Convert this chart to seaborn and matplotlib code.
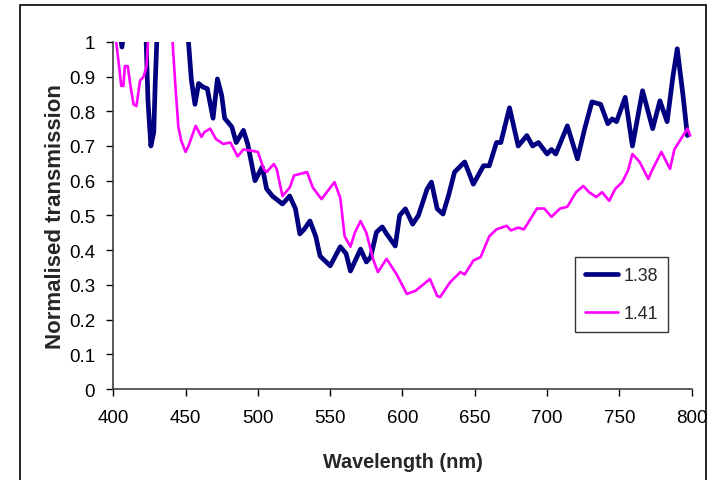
import pandas as pd
import matplotlib
matplotlib.use("Agg")
import matplotlib.pyplot as plt
import matplotlib.patches as patches
import seaborn as sns

# values (values above 1 are clipped by the axis)
wl_138 = [400, 404, 406, 408, 422, 424, 426, 428, 429, 431, 450, 452, 454, 456.5, 459,
          462, 465, 469, 472, 475, 477, 482, 485, 490, 493, 498, 503, 506, 510, 517,
          522, 526, 529, 532, 536, 540, 543, 550, 557, 561, 564, 571, 575, 578, 582,
          586, 589, 595, 598, 602, 607, 611, 617, 620, 624, 628, 632, 636, 643, 649,
          656, 660, 665, 668, 674, 680, 686, 690, 694, 700, 703, 706, 714, 721, 726,
          731, 737, 742, 745, 748, 754, 759, 766, 773, 778, 783, 787, 790, 794, 797]
tr_138 = [1.10, 1.05, 0.985, 1.05, 1.10, 0.83, 0.70, 0.74, 0.88, 1.10, 1.10, 1.00, 0.89, 0.82, 0.88,
          0.87, 0.865, 0.78, 0.893, 0.845, 0.78, 0.755, 0.71, 0.745, 0.705, 0.60, 0.64, 0.577, 0.556, 0.533,
          0.556, 0.519, 0.447, 0.46, 0.484, 0.44, 0.383, 0.355, 0.41, 0.39, 0.34, 0.403, 0.366, 0.38, 0.452,
          0.467, 0.447, 0.412, 0.50, 0.519, 0.475, 0.50, 0.576, 0.596, 0.519, 0.504, 0.56, 0.625, 0.654, 0.59,
          0.643, 0.643, 0.71, 0.71, 0.81, 0.70, 0.73, 0.70, 0.71, 0.677, 0.69, 0.677, 0.758, 0.663, 0.75,
          0.827, 0.82, 0.764, 0.778, 0.77, 0.84, 0.70, 0.859, 0.75, 0.83, 0.77, 0.90, 0.98, 0.845, 0.73]

wl_141 = [400, 402, 404, 405.5, 407, 408, 410, 412, 414, 416, 418.5, 421, 423, 424, 425,
          440, 441, 443, 445, 447, 450, 452, 455, 457, 461, 463, 467, 471, 476, 481,
          486, 490, 496, 500, 504, 506, 511, 513, 517, 522, 525, 534, 538, 544, 550,
          553, 557, 560, 564, 567, 571, 575, 580, 583, 589, 596, 603, 609, 619, 624,
          626, 633, 640, 643, 649, 654, 660, 665, 672, 675, 680, 684, 693, 698, 703,
          709, 714, 720, 725, 729, 734, 738, 743, 747, 752, 756, 759, 764, 770, 772,
          779, 785, 788, 794, 797, 799]
tr_141 = [1.05, 1.0, 0.93, 0.873, 0.873, 0.93, 0.93, 0.87, 0.82, 0.815, 0.888, 0.90, 0.93, 1.0, 1.10,
          1.10, 1.0, 0.87, 0.755, 0.715, 0.683, 0.70, 0.735, 0.758, 0.726, 0.74, 0.75, 0.72, 0.706, 0.71,
          0.67, 0.69, 0.686, 0.683, 0.634, 0.625, 0.648, 0.634, 0.556, 0.58, 0.615, 0.625, 0.58, 0.547, 0.58,
          0.596, 0.55, 0.44, 0.41, 0.45, 0.484, 0.45, 0.37, 0.337, 0.375, 0.33, 0.274, 0.283, 0.317, 0.268,
          0.265, 0.308, 0.337, 0.33, 0.37, 0.38, 0.44, 0.46, 0.47, 0.457, 0.465, 0.46, 0.52, 0.52, 0.496,
          0.52, 0.525, 0.567, 0.585, 0.567, 0.553, 0.567, 0.542, 0.576, 0.596, 0.63, 0.677, 0.654, 0.605, 0.625,
          0.683, 0.634, 0.69, 0.73, 0.75, 0.73]

x_ticks = [400, 450, 500, 550, 600, 650, 700, 750, 800]
y_ticks = [0, 0.1, 0.2, 0.3, 0.4, 0.5, 0.6, 0.7, 0.8, 0.9, 1]
y_ticklabels = ["0", "0.1", "0.2", "0.3", "0.4", "0.5", "0.6", "0.7", "0.8", "0.9", "1"]

df_138 = pd.DataFrame({"wavelength": wl_138, "transmission": tr_138})
df_141 = pd.DataFrame({"wavelength": wl_141, "transmission": tr_141})

sns.set_style("ticks")
plt.rcParams["font.family"] = ["Liberation Sans", "DejaVu Sans"]
plt.rcParams["lines.solid_joinstyle"] = "round"
plt.rcParams["lines.solid_capstyle"] = "round"

fig = plt.figure(figsize=(7.08, 4.81), dpi=100)
ax = fig.add_axes([0.160, 0.189, 0.817, 0.722])

sns.lineplot(x="wavelength", y="transmission", data=df_138, ax=ax, color="#000080",
             linewidth=3.4, estimator=None, sort=False, label="1.38")
sns.lineplot(x="wavelength", y="transmission", data=df_141, ax=ax, color="#ff00ff",
             linewidth=1.9, estimator=None, sort=False, label="1.41")

ax.set_xlim(400, 800)
ax.set_ylim(0, 1)
ax.set_xticks(x_ticks)
ax.set_yticks(y_ticks)
ax.set_yticklabels(y_ticklabels)
ax.tick_params(axis="both", direction="out", length=5, width=1, colors="black",
               labelsize=13.5)
ax.tick_params(axis="x", pad=9)
ax.tick_params(axis="y", pad=8)
ax.set_xlabel("Wavelength (nm)", fontsize=14.3, fontweight="bold")
ax.set_ylabel("Normalised transmission", fontsize=16, fontweight="bold")
ax.xaxis.set_label_coords(0.5, -0.180)
ax.yaxis.set_label_coords(-0.082, 0.5)
sns.despine(ax=ax)
for side in ["left", "bottom"]:
    ax.spines[side].set_color("#404040")
    ax.spines[side].set_linewidth(1.2)

leg = ax.legend(loc="upper left", bbox_to_anchor=(0.798, 0.380), borderaxespad=0,
                fontsize=12.8, frameon=True, fancybox=False, handlelength=1.9,
                labelspacing=1.2, borderpad=0.55, handletextpad=0.3)
leg.get_frame().set_edgecolor("black")
leg.get_frame().set_linewidth(1.0)

# outer chart border
fig.patches.append(patches.Rectangle((20 / 708, -0.02), 686 / 708, 1 - 6 / 481 + 0.02,
                                     transform=fig.transFigure, fill=False,
                                     edgecolor="black", linewidth=1.2))

fig.savefig("out.png", dpi=100)
